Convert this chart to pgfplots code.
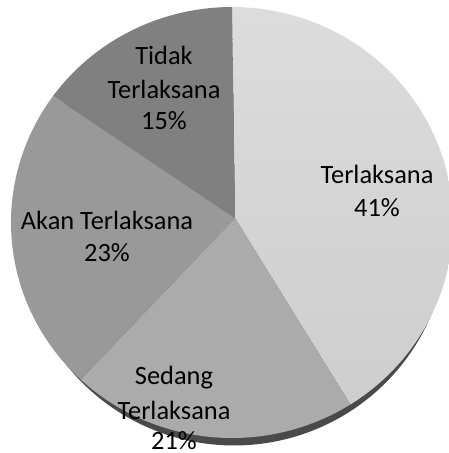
\documentclass[border=0pt]{standalone}
\usepackage{pgfplots}
\pgfplotsset{compat=1.18}
\usepackage{fontspec}
\setmainfont{Carlito}
\definecolor{cTer}{HTML}{D5D5D5}
\definecolor{cTerTop}{HTML}{DCDCDC}
\definecolor{cTerBot}{HTML}{CECECE}
\definecolor{cSed}{HTML}{ABABAB}
\definecolor{cAkan}{HTML}{999999}
\definecolor{cTidak}{HTML}{808080}
\definecolor{cShadow}{HTML}{4A4A4A}
\tikzset{lab/.style={font=\fontsize{26.4}{34}\selectfont, text=black, inner sep=0pt, anchor=base}}
% percentages of the four categories
\def\vTer{41}
\def\vSed{21}
\def\vAkan{23}
\def\vTidak{15}
\pgfmathsetmacro\aA{90}
\pgfmathsetmacro\aB{\aA-3.6*\vTer}
\pgfmathsetmacro\aC{\aB-3.6*\vSed}
\pgfmathsetmacro\aD{\aC-3.6*\vAkan}
\pgfmathsetmacro\aE{\aD-3.6*\vTidak}
\begin{document}
\begin{tikzpicture}
\begin{axis}[
  scale only axis, width=449pt, height=453pt,
  xmin=0, xmax=449, ymin=0, ymax=453,
  axis line style={draw=none}, ticks=none,
  clip=true,
]
% shadow
\addplot[fill=cShadow, draw=none, domain=0:360, samples=181, variable=\t]
  ({234+214*cos(t)},{220.5+213*sin(t)}) -- cycle;
% slices
\addplot[draw=none, top color=cTerTop, bottom color=cTerBot, domain=\aB:\aA, samples=100, variable=\t]
  ({232+221*cos(t)},{230.5+215.5*sin(t)}) -- (axis cs:235,235) -- cycle;
\addplot[fill=cSed, draw=none, domain=\aC:\aB, samples=60, variable=\t]
  ({232+221*cos(t)},{230.5+215.5*sin(t)}) -- (axis cs:235,235) -- cycle;
\addplot[fill=cAkan, draw=none, domain=\aD:\aC, samples=60, variable=\t]
  ({232+221*cos(t)},{230.5+215.5*sin(t)}) -- (axis cs:235,235) -- cycle;
\addplot[fill=cTidak, draw=none, domain=\aE:\aD, samples=50, variable=\t]
  ({232+221*cos(t)},{230.5+215.5*sin(t)}) -- (axis cs:235,235) -- cycle;
% labels
\node[lab] at (axis cs:164,388) {Tidak};
\node[lab] at (axis cs:164,354) {Terlaksana};
\node[lab] at (axis cs:164,323) {15\%};
\node[lab] at (axis cs:377,269) {Terlaksana};
\node[lab] at (axis cs:377,236) {41\%};
\node[lab] at (axis cs:107,223) {Akan Terlaksana};
\node[lab] at (axis cs:107,191) {23\%};
\node[lab] at (axis cs:174,68) {Sedang};
\node[lab] at (axis cs:174,34) {Terlaksana};
\node[lab] at (axis cs:174,3) {21\%};
\end{axis}
\end{tikzpicture}
\end{document}
